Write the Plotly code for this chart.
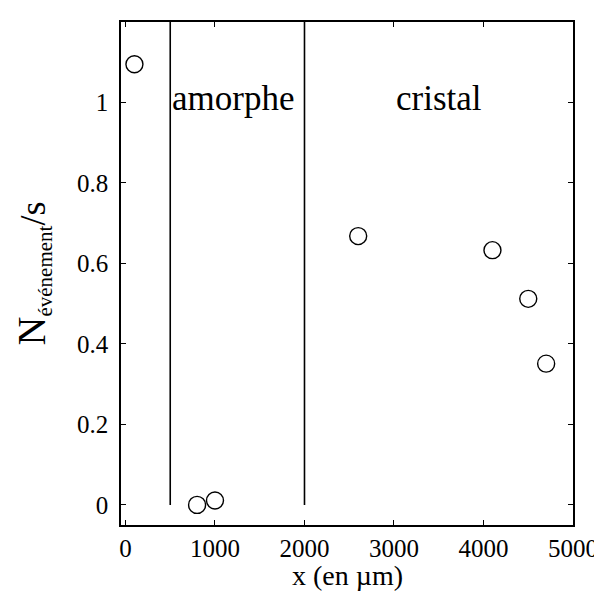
import plotly.graph_objects as go

# Data
x_pos = [100, 800, 1000, 2600, 4100, 4500, 4700]
rate = [1.095, 0.0, 0.011, 0.668, 0.633, 0.512, 0.351]
boundaries = [500, 2000]
region_labels = ["amorphe", "cristal"]
region_label_x = [1200, 3500]
region_label_y = 1.01
x_ticks = [0, 1000, 2000, 3000, 4000, 5000]
y_ticks = [0, 0.2, 0.4, 0.6, 0.8, 1]

FONT = "Liberation Serif, Times New Roman, serif"

fig = go.Figure()

for b in boundaries:
    fig.add_trace(go.Scatter(x=[b, b], y=[0, 1.2], mode="lines",
                             line=dict(color="black", width=1.6),
                             showlegend=False, hoverinfo="skip"))

fig.add_trace(go.Scatter(x=x_pos, y=rate, mode="markers",
                         marker=dict(symbol="circle-open", size=17,
                                     color="black", line=dict(width=1.4)),
                         showlegend=False))

for lab, lx in zip(region_labels, region_label_x):
    fig.add_annotation(x=lx, y=region_label_y, text=lab, showarrow=False,
                       xanchor="center", yanchor="middle",
                       font=dict(family=FONT, size=35, color="black"))

# x-axis title placed as a paper annotation so it sits just under the labels
fig.add_annotation(xref="paper", yref="paper", x=0.5, y=-0.1,
                   text="x (en µm)", showarrow=False,
                   xanchor="center", yanchor="middle",
                   font=dict(family=FONT, size=28, color="black"))

axis_common = dict(showline=True, linecolor="black", linewidth=1.6,
                   mirror="ticks", ticks="inside", ticklen=5, tickwidth=1,
                   tickcolor="black", showgrid=False, zeroline=False,
                   tickfont=dict(family=FONT, size=25, color="black"))

fig.update_xaxes(range=[-50, 5000], tickvals=x_ticks,
                 ticktext=[str(v) for v in x_ticks],
                 **axis_common)
fig.update_yaxes(range=[-0.05, 1.2], tickvals=y_ticks,
                 ticktext=["0", "0.2", "0.4", "0.6", "0.8", "1"],
                 ticklabelstandoff=6,
                 title=dict(text="<span style='font-size:40px'>N</span><sub>événement</sub>"
                                 "<span style='font-size:36px'>/s</span>",
                            font=dict(family=FONT, size=30, color="black"),
                            standoff=22),
                 **axis_common)

fig.update_layout(width=602, height=593,
                  margin=dict(l=113, r=30, t=14, b=76),
                  paper_bgcolor="white", plot_bgcolor="white")

fig.write_html("out.html")
